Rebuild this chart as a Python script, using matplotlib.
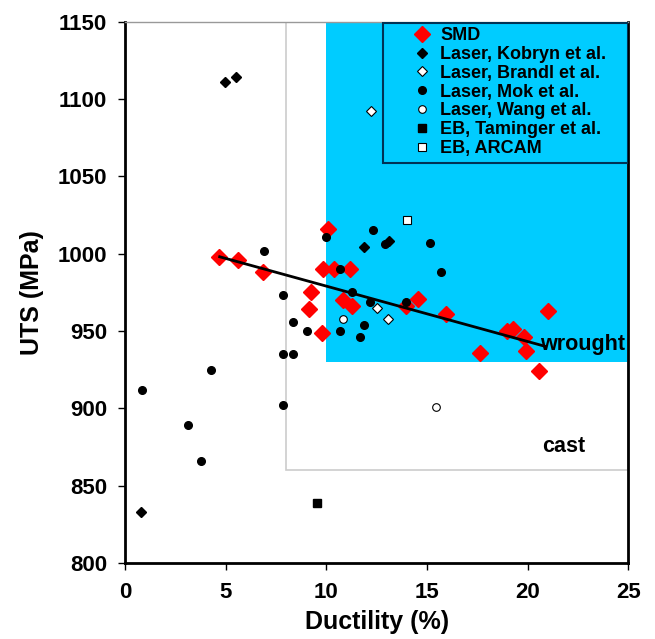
import matplotlib.pyplot as plt
from matplotlib.patches import Rectangle

plt.rcParams['font.family'] = ['Liberation Sans', 'DejaVu Sans']
plt.rcParams['font.weight'] = 'bold'

smd_x = [4.67, 5.63, 6.87, 10.06, 9.82, 10.39, 11.18, 9.23, 9.16, 9.78, 10.85, 11.27,
         13.95, 14.58, 15.94, 21.0, 19.0, 19.3, 19.83, 19.91, 17.64, 20.59]
smd_y = [998, 996, 988, 1016, 990, 990, 990, 975, 964, 949, 970, 966,
         966, 971, 961, 963, 950, 951, 946, 937, 936, 924]

kobryn_x = [0.81, 4.94, 5.53, 11.85, 13.1]
kobryn_y = [833, 1111, 1114, 1004, 1008]

brandl_x = [12.24, 12.54, 13.06]
brandl_y = [1092, 965, 958]

mok_x = [0.84, 3.15, 3.76, 4.27, 6.92, 7.85, 7.87, 7.87, 8.33, 8.33, 9.03, 9.99,
         10.69, 10.69, 11.27, 11.68, 11.85, 12.18, 12.34, 12.9, 13.95, 15.14, 15.69]
mok_y = [912, 889, 866, 925, 1002, 902, 973, 935, 935, 956, 950, 1011,
         990, 950, 975, 946, 954, 969, 1015, 1006, 969, 1007, 988]

wang_x = [10.82, 15.44]
wang_y = [958, 901]

taminger_x = [9.54]
taminger_y = [839]

arcam_x = [14.03]
arcam_y = [1022]

trend_x = [4.7, 20.9]
trend_y = [998, 940]

fig = plt.figure(figsize=(6.55, 6.39), dpi=100)
ax = fig.add_axes([0.191, 0.119, 0.768, 0.847])

# property windows: wrought (cyan) and cast (gray outline)
ax.add_patch(Rectangle((10, 930), 15, 220, facecolor='#00CCFF', edgecolor='none', zorder=0))
ax.add_patch(Rectangle((8, 860), 17, 290, facecolor='none', edgecolor='#cccccc', lw=1.2, zorder=0.5))

ax.plot(trend_x, trend_y, color='black', lw=2, zorder=3)

ax.plot(smd_x, smd_y, 'D', color='red', ms=8.5, mec='red', ls='none', label='SMD', zorder=2)
ax.plot(kobryn_x, kobryn_y, 'D', color='black', ms=5, ls='none', label='Laser, Kobryn et al.', zorder=4)
ax.plot(brandl_x, brandl_y, 'D', mfc='white', mec='black', ms=5, mew=0.8, ls='none',
        label='Laser, Brandl et al.', zorder=4)
ax.plot(mok_x, mok_y, 'o', color='black', ms=5.5, ls='none', label='Laser, Mok et al.', zorder=4)
ax.plot(wang_x, wang_y, 'o', mfc='white', mec='black', ms=5.5, mew=0.8, ls='none',
        label='Laser, Wang et al.', zorder=4)
ax.plot(taminger_x, taminger_y, 's', color='black', ms=6, ls='none', label='EB, Taminger et al.', zorder=4)
ax.plot(arcam_x, arcam_y, 's', mfc='white', mec='black', ms=6, mew=0.8, ls='none',
        label='EB, ARCAM', zorder=4)

ax.text(22.75, 941, 'wrought', fontsize=15.5, ha='center', va='center', zorder=5)
ax.text(21.8, 875, 'cast', fontsize=15.5, ha='center', va='center', zorder=5)

ax.set_xlim(0, 25)
ax.set_ylim(800, 1150)
ax.set_xticks(range(0, 26, 5))
ax.set_yticks(range(800, 1151, 50))
ax.tick_params(labelsize=16, length=5, width=1)
ax.tick_params(axis='x', pad=9)
ax.tick_params(axis='y', pad=8)
ax.set_xlabel('Ductility (%)', fontsize=18, fontweight='bold', labelpad=5)
ax.set_ylabel('UTS (MPa)', fontsize=18, fontweight='bold', labelpad=10)

for s in ['left', 'bottom', 'right']:
    ax.spines[s].set_linewidth(2)
ax.spines['top'].set_color('#999999')
ax.spines['top'].set_linewidth(1)

# legend box drawn separately so it can be wider than the entries
ax.add_patch(Rectangle((0.513, 0.739), 0.487, 0.259, transform=ax.transAxes,
                       facecolor='#00CCFF', edgecolor='#003355', lw=1.5, zorder=6))
leg = ax.legend(loc='upper left', bbox_to_anchor=(0.513, 1.0), borderaxespad=0, fontsize=13,
                frameon=False, handletextpad=-0.87, labelspacing=0.1, borderpad=0.3,
                handlelength=3.73)
leg.set_zorder(7)

plt.savefig('out.png', dpi=100)
